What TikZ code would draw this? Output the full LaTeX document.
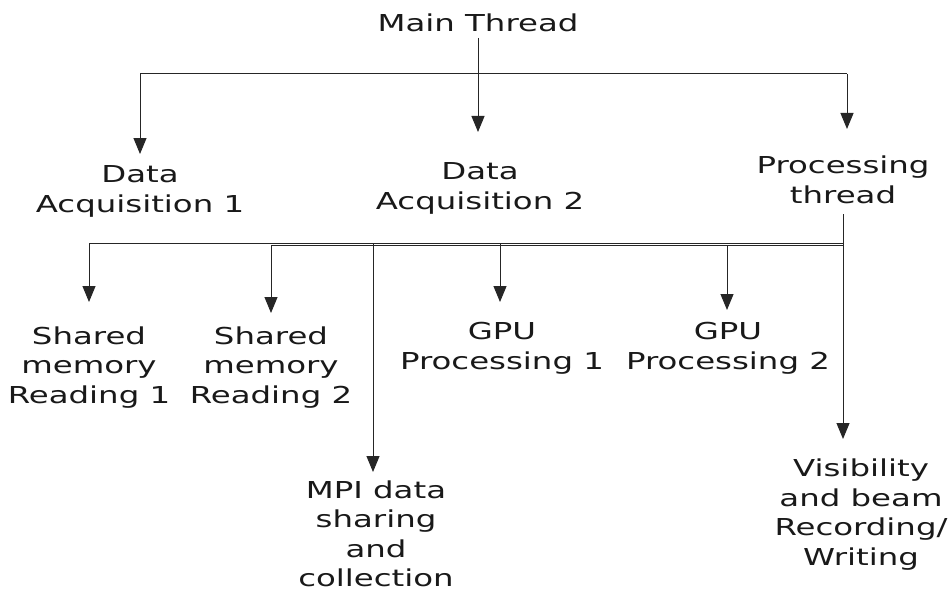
\documentclass[tikz,border=0pt]{standalone}
\usepackage{fontspec}
\setmainfont{DejaVu Sans}[FakeStretch=1.39]
\usetikzlibrary{arrows.meta}
\begin{document}
\begin{tikzpicture}[x=1pt,y=-1pt,
  lbl/.style={align=center, inner sep=0pt, anchor=base, text=black!90,
    font=\fontsize{23.3}{29.5}\selectfont},
  ln/.style={line width=1pt, draw=black!85},
  arr/.style={ln, -{Triangle[length=16pt,width=13pt]}}]
\useasboundingbox[fill=white] (0,0) rectangle (952,591);

% nodes (anchor = baseline of the last line)
\node[lbl] (main) at (478,32) {Main Thread};
\node[lbl] (da1) at (140,212) {Data\\Acquisition 1};
\node[lbl] (da2) at (480,209) {Data\\Acquisition 2};
\node[lbl] (pt) at (843,203) {Processing\\thread};
\node[lbl] (smr1) at (89,403) {Shared\\memory\\Reading 1};
\node[lbl] (smr2) at (271,403) {Shared\\memory\\Reading 2};
\node[lbl] (gpu1) at (502,369) {GPU\\Processing 1};
\node[lbl] (gpu2) at (728,369) {GPU\\Processing 2};
\node[lbl] (mpi) at (376,586.5) {MPI data\\sharing\\and\\collection};
\node[lbl] (vis) at (861,565) {Visibility\\and beam\ \\Recording/\\Writing};

% level 1 connectors
\coordinate (m0) at (478,38);
\coordinate (hL) at (140,74);
\coordinate (hR) at (847,74);
\coordinate (tda1) at (140,154);
\coordinate (tda2) at (478,132);
\coordinate (tpt) at (847,129);
\draw[ln] (hL) -- (hR);
\draw[arr] (m0) -- (tda2);
\draw[arr] (hL) -- (tda1);
\draw[arr] (hR) -- (tpt);

% level 2 connectors
\coordinate (p0) at (843,214);
\coordinate (uL) at (89,243.3);
\coordinate (uR) at (843,243.3);
\coordinate (lL) at (271,245.3);
\coordinate (lR) at (843,245.3);
\coordinate (tvis) at (843,439);
\coordinate (tsmr1) at (89,302);
\coordinate (tsmr2) at (271,313);
\coordinate (tmpi) at (373,472);
\coordinate (tgpu1) at (500,302);
\coordinate (tgpu2) at (727,310);
\draw[ln] (uL) -- (uR);
\draw[ln] (lL) -- (lR);
\draw[arr] (p0) -- (tvis);
\draw[arr] (uL) -- (tsmr1);
\draw[arr] (lL) -- (tsmr2);
\draw[arr] (tmpi |- uL) -- (tmpi);
\draw[arr] (tgpu1 |- uL) -- (tgpu1);
\draw[arr] (tgpu2 |- lL) -- (tgpu2);
\end{tikzpicture}
\end{document}
